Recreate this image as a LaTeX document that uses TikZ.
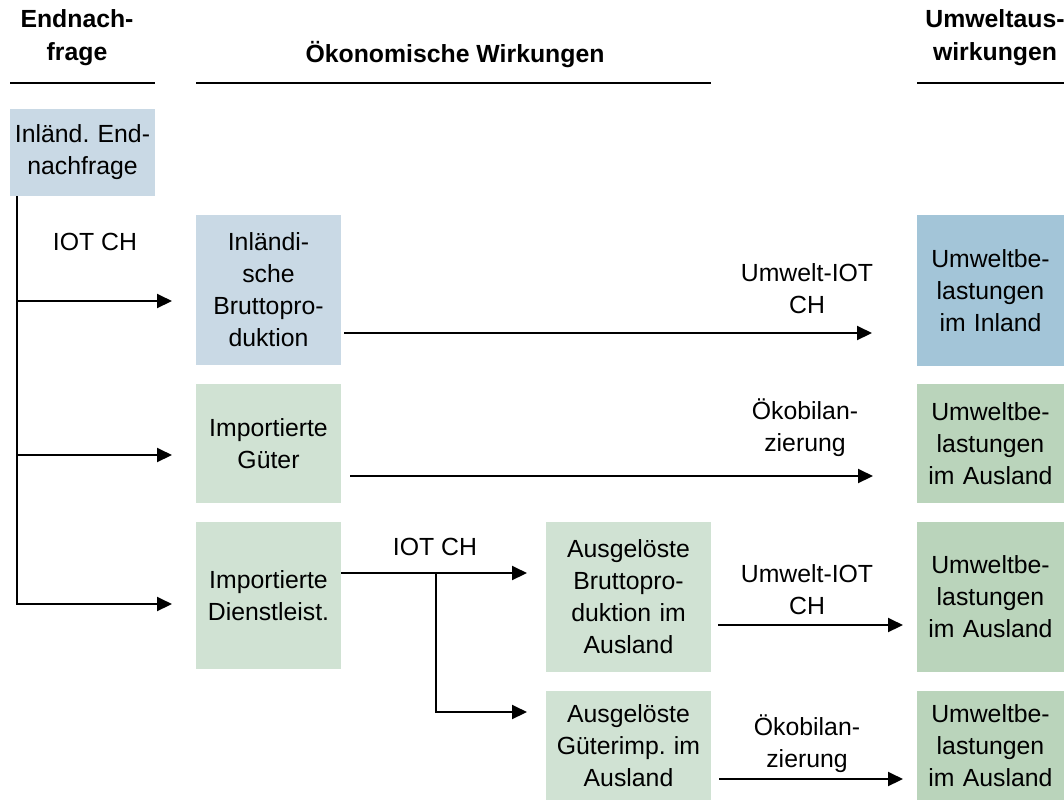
\documentclass[tikz,border=0pt]{standalone}
\usepackage{fontspec}
\setmainfont{Liberation Sans}
\frenchspacing
\usetikzlibrary{positioning,arrows.meta}
\definecolor{mybluei}{RGB}{201,217,229}
\definecolor{myblueii}{RGB}{163,197,216}
\definecolor{mygreeni}{RGB}{208,226,211}
\definecolor{mygreenii}{RGB}{186,212,187}
\tikzset{
  flowpic/.style={
    x=1pt,y=-1pt
    ,inner sep=0pt
    ,outer sep=0pt
  }
  ,txt/.style={align=center,font=\fontsize{24.8}{32}\selectfont}
  ,head/.style={align=center,font=\fontsize{24.8}{33}\selectfont\bfseries}
  ,headrule/.style={line width=2.5pt}
  ,pfeil/.style={line width=2pt,-{Triangle[length=15pt,width=14pt]}}
  ,colbox/.style={txt,text width=145pt}
  ,inlbox/.style={colbox,fill=mybluei}
  ,impbox/.style={colbox,fill=mygreeni}
  ,ausbox/.style={txt,text width=165pt,fill=mygreeni}
  ,effbox/.style={txt,text width=147pt,fill=mygreenii}
}

\begin{document}
\begin{tikzpicture}[flowpic]
  \useasboundingbox (0,0) rectangle (1064,807);
  % headers
  \node[head] (hnachfrage) at (77,38) {Endnach-\\frage};
  \node[head] (hwirkung) at (455,55) {Ökonomische Wirkungen};
  \node[head] (humwelt) at (995,38) {Umweltaus-\\wirkungen};
  \draw[headrule] (10,83) -- (155,83);
  \draw[headrule] (196,83) -- (711,83);
  \draw[headrule] (917,83) -- (1064,83);
  % final demand
  \node[inlbox,minimum height=87pt] (nachfrage) at (82.5,152.5) {Inländ. End-\\nachfrage};
  % economic effects
  \node[inlbox,minimum height=150pt] (inlprod) at (268.5,290) {Inländi-\\sche\\Bruttopro-\\duktion};
  \node[impbox,minimum height=119pt] (impgueter) at (268.5,443.5) {Importierte\\Güter};
  \node[impbox,minimum height=147pt] (impdienst) at (268.5,595.5) {Importierte\\Dienstleist.};
  \node[ausbox,minimum height=150pt] (auslprod) at (628.5,597) {Ausgelöste\\Bruttopro-\\duktion im\\Ausland};
  \node[ausbox,minimum height=109pt] (auslgueter) at (628.5,745.5) {Ausgelöste\\Güterimp. im\\Ausland};
  % environmental effects
  \node[effbox,fill=myblueii,minimum height=151pt] (umwinland) at (990.5,290.5) {Umweltbe-\\lastungen\\im Inland};
  \node[effbox,minimum height=119pt] (umwausli) at (990.5,443.5) {Umweltbe-\\lastungen\\im Ausland};
  \node[effbox,minimum height=150pt] (umwauslii) at (990.5,597) {Umweltbe-\\lastungen\\im Ausland};
  \node[effbox,minimum height=109pt] (umwausliii) at (990.5,745.5) {Umweltbe-\\lastungen\\im Ausland};
  % connectors
  \coordinate (stamm) at ([xshift=7pt]nachfrage.south west);
  \coordinate (pi) at (172,301);
  \coordinate (pii) at (172,455);
  \coordinate (piii) at (172,604);
  \draw[pfeil] (stamm) |- (piii);
  \foreach \p in {pi,pii}
    \draw[pfeil] (stamm |- \p) -- (\p);
  \node[txt] (iotch) at (95,242) {IOT CH};
  \coordinate (qi) at (872,333);
  \coordinate (qii) at (873,476);
  \draw[pfeil,shorten <=3pt] (inlprod.east |- qi) -- (qi);
  \draw[pfeil,shorten <=9pt] (impgueter.east |- qii) -- (qii);
  \node[txt] (umwiot) at (807,289) {Umwelt-IOT\\CH};
  \node[txt] (oekobil) at (805,428) {Ökobilan-\\zierung};
  \coordinate (qiii) at (527,573);
  \coordinate (qiv) at (527,712);
  \coordinate (abzweig) at (436,573);
  \draw[pfeil] (impdienst.east |- qiii) -- (qiii);
  \draw[pfeil] (abzweig) |- (qiv);
  \node[txt] (iotchii) at (435,547) {IOT CH};
  \coordinate (qv) at (903,625);
  \coordinate (qvi) at (903,779);
  \draw[pfeil,shorten <=7pt] (auslprod.east |- qv) -- (qv);
  \draw[pfeil,shorten <=8pt] (auslgueter.east |- qvi) -- (qvi);
  \node[txt] (umwiotii) at (807,590) {Umwelt-IOT\\CH};
  \node[txt] (oekobilii) at (807,744) {Ökobilan-\\zierung};
\end{tikzpicture}
\end{document}
